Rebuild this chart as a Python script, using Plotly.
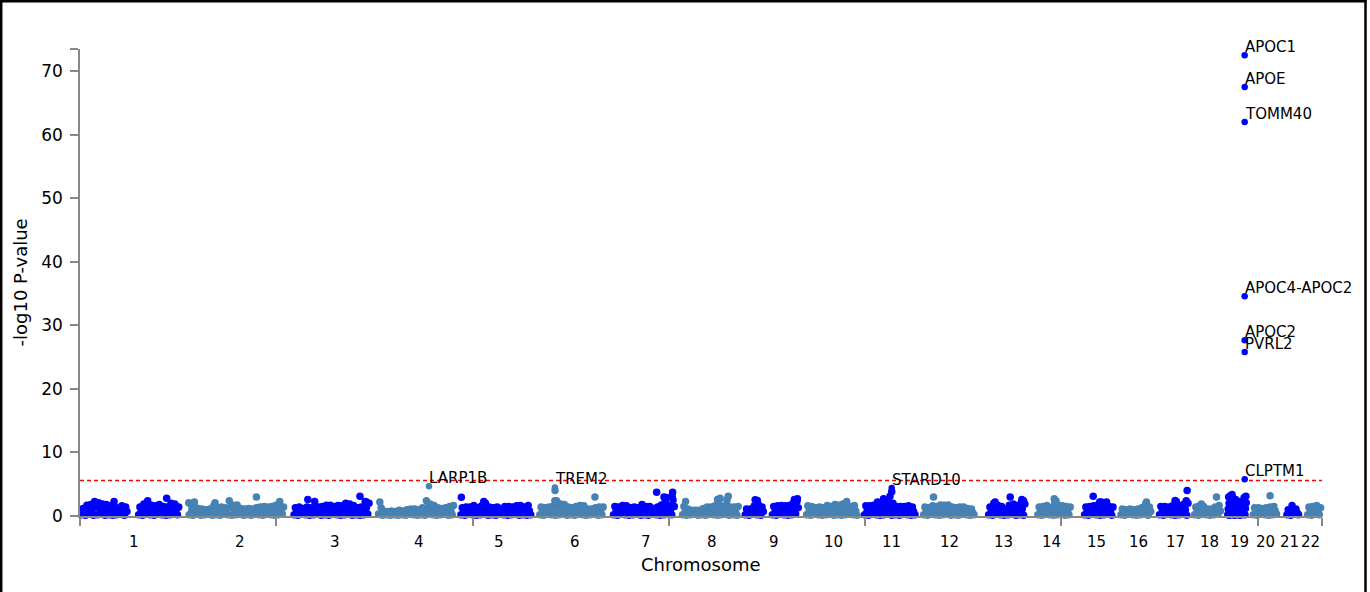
import plotly.graph_objects as go

# ---------------- data ----------------
chrom_labels = ["1", "2", "3", "4", "5", "6", "7", "8", "9", "10", "11",
                "12", "13", "14", "15", "16", "17", "18", "19", "20", "21", "22"]
chrom_len_mb = [249.25, 243.20, 198.02, 191.15, 180.92, 171.12, 159.14, 146.36,
                141.21, 135.53, 135.01, 133.85, 115.17, 107.35, 102.53, 90.35,
                81.20, 78.08, 59.13, 63.03, 48.13, 51.30]
# first bin (Mb) and bin width (Mb) of the gene -log10(P) values of each chromosome
bin_start_mb = [4, 4, 4, 2, 2, 4, 4, 5, 4, 5, 4, 6, 23, 22, 23, 5, 4, 4, 3, 3, 18, 18]
bin_step_mb = [3, 3, 3, 3, 3, 3, 3, 3, 3, 3, 3, 3, 3, 3, 3, 3, 3, 3, 1, 3, 3, 3]

chr1_p = [0.2, 1.2, 0.6, 0.1, 1.7, 0.9, 0.3, 1.8, 1.0, 0.1, 2.3, 1.4, 0.2, 2.1, 1.2,
          0.3, 1.9, 1.1, 0.1, 1.8, 0.9, 0.2, 1.6, 0.8, 0.1, 2.3, 1.4, 0.2, 1.1, 0.6,
          0.3, 1.6, 0.8, 0.1, 1.4, 0.7,
          None, None, None, None, None, None, None, None,
          0.2, 1.4, 0.7, 0.1, 1.9, 1.1, 0.3, 2.4, 1.4, 0.2, 1.7, 0.9, 0.1, 1.6, 0.8,
          0.3, 1.8, 1.0, 0.2, 1.5, 0.8, 0.1, 1.4, 0.7, 0.2, 2.0, 1.2, 0.3, 1.9, 1.0,
          0.2, 1.4]
chr2_p = [0.2, 1.9, 1.0, 0.1, 2.2, 1.3, 0.3, 1.2, 0.6, 0.1, 1.1, 0.5, 0.2, 1.0, 0.6,
          0.3, 1.1, 0.5, 0.1, 1.6, 0.8, 0.2, 1.3, 0.7, 0.1, 1.4, 0.6, 0.3, 1.3, 0.7,
          0.2, 2.4, 1.4, 0.1, 1.7, 0.9, 0.2, 1.75, 1.0, 0.3, 1.2, 0.6, 0.1, 1.1, 0.5,
          0.2, 1.2, 0.7, 0.1, 1.1, 0.6, 0.3, 1.3, 0.7, 0.2, 1.4, 0.6, 0.1, 1.5, 0.8,
          0.3, 1.4, 0.7, 0.2, 1.5, 0.8, 0.1, 1.7, 0.9, 0.2, 2.3, 1.3, 0.3, 1.4]
chr3_p = [0.2, 1.3, 0.6, 0.1, 1.4, 0.7, 0.3, 1.2, 0.6, 0.2, 1.4, 0.7, 0.1, 1.3, 0.6,
          0.2, 2.3, 1.3, 0.3, 1.4, 0.7, 0.1, 1.5, 0.8, 0.2, 1.7, 0.9, 0.1, 1.7, 0.9,
          0.3, 1.5, 0.8, 0.2, 1.65, 0.9, 0.1, 1.6, 0.8, 0.2, 2.0, 1.1, 0.3, 1.9, 1.0,
          0.1, 1.65, 0.9, 0.2, 1.3, 0.6, 0.1, 1.4, 0.8, 0.2, 2.3, 1.3, 0.3, 2.0]
chr4_p = [0.3, 2.2, 1.3, 0.1, 0.8, 0.4, 0.2, 0.7, 0.4, 0.1, 0.8, 0.5, 0.2, 0.7, 0.3,
          0.1, 0.9, 0.5, 0.2, 0.8, 0.4, 0.1, 1.0, 0.5, 0.3, 1.1, 0.6, 0.2, 1.1, 0.5,
          0.1, 1.0, 0.6, 0.2, 1.3, 0.7, 0.1, 2.4, 1.4, 0.3, 1.9, 1.0, 0.2, 1.65, 0.9,
          0.1, 1.3, 0.7, 0.2, 1.2, 0.6, 0.3, 1.3, 0.7, 0.1, 1.5, 0.8, 0.2, 1.65]
chr5_p = [0.2, 1.3, 0.7, 0.1, 1.4, 0.6, 0.3, 1.4, 0.7, 0.2, 1.65, 0.9, 0.1, 1.3, 0.6,
          0.2, 1.6, 0.9, 0.3, 2.0, 1.1, 0.1, 1.4, 0.7, 0.2, 1.3, 0.6, 0.1, 1.4, 0.7,
          0.3, 1.2, 0.6, 0.2, 1.5, 0.8, 0.1, 1.5, 0.7, 0.2, 1.4, 0.6, 0.3, 1.6, 0.8,
          0.1, 1.65, 0.9, 0.2, 1.4, 0.7, 0.1, 1.65, 0.8, 0.2]
chr6_p = [0.2, 1.4, 0.7, 0.1, 1.3, 0.6, 0.3, 1.4, 0.7, 0.2, 1.5, 0.8, 0.1, 2.4, 1.4,
          0.2, 1.9, 1.0, 0.3, 1.8, 0.9, 0.1, 1.4, 0.7, 0.2, 1.3, 0.6, 0.1, 1.5, 0.8,
          0.3, 1.65, 0.9, 0.2, 1.6, 0.8, 0.1, 1.1, 0.5, 0.2, 1.1, 0.6, 0.3, 1.3, 0.7,
          0.1, 1.4, 0.7, 0.2, 1.4]
chr7_p = [0.2, 1.5, 0.8, 0.1, 1.4, 0.7, 0.3, 1.65, 0.9, 0.2, 1.6, 0.8, 0.1, 1.3, 0.6,
          0.2, 1.4, 0.7, 0.3, 1.3, 0.6, 0.1, 1.8, 1.0, 0.2, 1.5, 0.7, 0.1, 1.5, 0.8,
          0.3, 1.2, 0.6, 0.2, 1.4, 0.7, 0.1, 1.75, 0.9, 0.2, 2.4, 1.3, 0.3, 1.6, 0.9,
          0.2, 2.5, 1.5]
chr8_p = [0.2, 1.5, 0.7, 0.1, 1.1, 0.5, 0.2, 0.9, 0.4, 0.3, 0.9, 0.5, 0.1, 0.9, 0.4,
          0.2, 1.2, 0.6, 0.1, 1.4, 0.7, 0.3, 1.4, 0.6, 0.2, 1.6, 0.8, 0.1, 2.2, 1.2,
          0.2, 1.5, 0.8, 0.3, 1.8, 1.0, 0.1, 1.4, 0.7, 0.2, 1.4, 0.6, 0.1, 1.5]
chr9_p = [0.2, 1.1, 0.5, 0.1, 1.1, 0.6, 0.3, 1.6, 0.8, 0.2, 1.9, 1.0, 0.1, 1.4, 0.7,
          None, None, None, None, None, None,
          0.2, 1.5, 0.7, 0.1, 1.6, 0.8, 0.3, 1.65, 0.9, 0.2, 1.6, 0.8, 0.1, 1.65, 0.9,
          0.2, 2.0, 1.1, 0.3, 2.3, 1.3]
chr10_p = [0.2, 1.6, 0.8, 0.1, 1.5, 0.7, 0.3, 1.3, 0.6, 0.2, 1.4, 0.7, 0.1, 1.3, 0.6,
           0.2, 1.65, 0.9, 0.3, 1.5, 0.7, 0.1, 1.8, 1.0, 0.2, 1.7, 0.9, 0.1, 1.9, 1.0,
           0.2, 2.3, 1.3, 0.3, 1.5, 0.7, 0.2, 1.65, 0.8, 0.1]
chr11_p = [0.2, 1.6, 0.8, 0.1, 1.6, 0.7, 0.3, 1.7, 0.9, 0.2, 2.2, 1.2, 0.1, 2.0, 1.1,
           0.2, 2.3, 1.3, 0.3, 2.2, 1.2, 0.1, 2.0, 1.1, 0.2, 1.5, 0.7, 0.1, 1.5, 0.8,
           0.3, 1.5, 0.7, 0.2, 1.6, 0.8, 0.1, 1.4, 0.7, 0.2]
chr12_p = [0.2, 1.4, 0.7, 0.1, 1.3, 0.6, 0.3, 1.6, 0.8, 0.2, 1.5, 0.7, 0.1, 1.75, 0.9,
           0.2, 1.7, 0.9, 0.3, 1.75, 0.9, 0.1, 1.4, 0.7, 0.2, 1.3, 0.6, 0.1, 1.4, 0.7,
           0.3, 1.4, 0.6, 0.2, 1.2, 0.6, 0.1, 1.1, 0.5, 0.2]
chr13_p = [0.2, 1.4, 0.7, 0.1, 2.0, 1.1, 0.3, 1.7, 0.9, 0.2, 1.5, 0.7, 0.1, 1.1, 0.5,
           0.2, 1.7, 0.9, 0.3, 1.9, 1.0, 0.1, 1.6, 0.8, 0.2, 2.0, 1.1, 0.1, 1.9]
chr14_p = [0.2, 1.4, 0.7, 0.1, 1.5, 0.7, 0.3, 1.65, 0.9, 0.2, 1.3, 0.6, 0.1, 2.1, 1.2,
           0.2, 1.7, 0.9, 0.3, 1.6, 0.8, 0.1, 1.5, 0.7, 0.2, 1.4]
chr15_p = [0.2, 1.4, 0.7, 0.1, 1.5, 0.8, 0.3, 1.6, 0.8, 0.2, 1.7, 0.9, 0.1, 2.2, 1.2,
           0.2, 1.8, 1.0, 0.3, 1.5, 0.7, 0.1, 1.4]
chr16_p = [0.2, 1.1, 0.5, 0.1, 1.0, 0.6, 0.3, 1.1, 0.5, 0.2, 1.0, 0.5, 0.1, 1.1, 0.6,
           0.2, 1.3, 0.7, 0.3, 1.9, 1.0, 0.1, 1.4, 0.7]
chr17_p = [0.2, 1.5, 0.7, 0.1, 1.5, 0.8, 0.3, 1.4, 0.7, 0.2, 1.6, 0.8, 0.1, 2.3, 1.3,
           0.2, 1.65, 0.9, 0.3, 1.9, 1.0, 0.1, 2.0]
chr18_p = [0.2, 1.4, 0.7, 0.1, 1.6, 0.8, 0.3, 1.5, 0.7, 0.2, 1.1, 0.5, 0.1, 1.1, 0.6,
           0.2, 1.4, 0.7, 0.3, 1.65, 0.8]
chr19_p = [0.2, 1.1, 3.0, 2.0, 0.1, 1.2, 3.2, 2.1, 0.3, 1.1, 3.4, 2.2, 0.2, 1.0, 2.7,
           1.9, 0.1, 1.1, 2.6, 1.8, 0.3, 1.0, 2.2, 1.6, 0.2, 1.1, 2.3, 1.7, 0.1, 0.9,
           2.2, 1.6, 0.2, 1.0, 2.2, 1.5, 0.3, 1.1, 2.9, 2.0, 0.2, 1.2, 3.1, 2.1]
chr20_p = [0.2, 1.3, 0.7, 0.1, 1.3, 0.6, 0.3, 1.2, 0.6, 0.2, 1.3, 0.7, 0.1, 1.4, 0.7,
           0.2, 1.5, 0.8, 0.3]
chr21_p = [0.2, 1.0, 0.5, 0.1, 1.65, 0.9, 0.3, 1.1, 0.5, 0.2]
chr22_p = [0.2, 1.4, 0.7, 0.1, 1.5, 0.8, 0.3, 1.65, 0.8, 0.2, 1.3]

chrom_p = [chr1_p, chr2_p, chr3_p, chr4_p, chr5_p, chr6_p, chr7_p, chr8_p, chr9_p,
           chr10_p, chr11_p, chr12_p, chr13_p, chr14_p, chr15_p, chr16_p, chr17_p,
           chr18_p, chr19_p, chr20_p, chr21_p, chr22_p]

# isolated stronger (unlabelled) genes
extra_chrom = [1, 2, 2, 2, 3, 3, 3, 5, 5, 6, 6, 6, 7, 7, 7, 7, 7, 8, 8, 8, 8, 8,
               9, 9, 9, 9, 11, 11, 11, 12, 13, 13, 13, 13, 14, 14, 15, 15, 15, 16,
               17, 17, 17, 18, 18, 20]
extra_mb = [201, 3, 64, 160, 36, 157, 172, 3, 55, 39, 39.5, 132, 104, 121, 127, 140,
            141, 12, 86, 92, 108, 111, 27, 32, 118, 125, 48, 63, 67, 29, 38, 73, 100,
            104, 60, 64, 43, 58, 74, 64, 40, 66, 68, 20, 55, 42]
extra_p = [2.8, 2.1, 2.1, 3.0, 2.6, 3.1, 2.2, 2.95, 2.3, 2.4, 4.0, 3.0, 3.75, 3.0, 2.9,
           3.1, 3.75, 2.3, 2.6, 2.8, 2.5, 3.1, 2.55, 2.45, 2.6, 2.7, 2.7, 3.1, 3.8, 3.0,
           2.2, 3.0, 2.6, 2.4, 2.7, 2.4, 3.1, 2.2, 2.2, 2.2, 2.45, 2.4, 4.0, 1.9, 3.0,
           3.2]

# labelled genes
top_genes = ["APOC1", "APOE", "TOMM40", "APOC4-APOC2", "APOC2", "PVRL2", "CLPTM1",
             "LARP1B", "TREM2", "STARD10"]
top_chrom = [19, 19, 19, 19, 19, 19, 19, 4, 6, 11]
top_mb = [42.2, 42.2, 42.2, 42.2, 42.2, 42.2, 42.3, 119, 39, 67]
top_p = [72.5, 67.5, 62.0, 34.6, 27.65, 25.8, 5.8, 4.7, 4.5, 4.4]

threshold_p = 5.6
y_tick_vals = [0, 10, 20, 30, 40, 50, 60, 70]
y_tick_text = ["0", "10", "20", "30", "40", "50", "60", "70"]
y_max = 73.5
x_tick_mb = [455.3, 910.6, 1365.9, 1821.2, 2276.5, 2731.8]

# ---------------- build ----------------
offsets = []
acc = 0.0
for L in chrom_len_mb:
    offsets.append(acc)
    acc += L
genome_total = acc

colors = ["#0000ff", "#4682b4"]
FONT = "DejaVu Sans"

xs = {0: [], 1: []}
ys = {0: [], 1: []}
for i, vals in enumerate(chrom_p):
    c = i % 2
    for k, v in enumerate(vals):
        xs[c].append(offsets[i] + bin_start_mb[i] + k * bin_step_mb[i])
        ys[c].append(v)
for ch, mb, p in zip(extra_chrom, extra_mb, extra_p):
    c = (ch - 1) % 2
    xs[c].append(offsets[ch - 1] + mb)
    ys[c].append(p)

fig = go.Figure()
for c in (1, 0):
    fig.add_trace(go.Scatter(
        x=xs[c], y=ys[c], mode="markers",
        marker=dict(size=7.5, color=colors[c], line=dict(width=0)),
        cliponaxis=False, hoverinfo="skip", showlegend=False))

# labelled genes, drawn slightly smaller like the reference
tx = {0: [], 1: []}
ty = {0: [], 1: []}
for ch, mb, p in zip(top_chrom, top_mb, top_p):
    c = (ch - 1) % 2
    tx[c].append(offsets[ch - 1] + mb)
    ty[c].append(p)
for c in (1, 0):
    fig.add_trace(go.Scatter(
        x=tx[c], y=ty[c], mode="markers",
        marker=dict(size=6.5, color=colors[c], line=dict(width=0)),
        cliponaxis=False, hoverinfo="skip", showlegend=False))

annotations = []
for i, lab in enumerate(chrom_labels):
    annotations.append(dict(
        x=offsets[i] + chrom_len_mb[i] / 2, y=0, xref="x", yref="y",
        text=lab, showarrow=False, yanchor="middle", xanchor="center",
        yshift=-26, font=dict(family=FONT, size=15, color="#000")))
for g, ch, mb, p in zip(top_genes, top_chrom, top_mb, top_p):
    annotations.append(dict(
        x=offsets[ch - 1] + mb, y=p, xref="x", yref="y", text=g,
        showarrow=False, xanchor="left", yanchor="bottom", xshift=-2, yshift=-3,
        font=dict(family=FONT, size=15, color="#000")))
annotations.append(dict(
    x=0.5, y=0, xref="paper", yref="y", text="Chromosome", showarrow=False,
    xanchor="center", yanchor="middle", yshift=-48,
    font=dict(family=FONT, size=18, color="#000")))
annotations.append(dict(
    x=(20 - 80) / 1242, y=0.5, xref="paper", yref="paper", text="-log10 P-value",
    showarrow=False, xanchor="center", yanchor="middle", textangle=-90,
    font=dict(family=FONT, size=18, color="#000")))

shapes = [
    dict(type="line", xref="paper", yref="y", x0=0, x1=1, y0=threshold_p,
         y1=threshold_p, line=dict(color="#ff0000", width=1.5, dash="4px,3px"),
         layer="below"),
    # page frame
    dict(type="line", xref="paper", yref="paper", x0=(1.2 - 80) / 1242,
         x1=(1.2 - 80) / 1242, y0=1.11, y1=-0.17, line=dict(color="#000", width=2.5)),
    dict(type="line", xref="paper", yref="paper", x0=-0.07, x1=(1366.5 - 80) / 1242,
         y0=(516 - 1.2) / 467, y1=(516 - 1.2) / 467, line=dict(color="#000", width=2.5)),
    dict(type="line", xref="paper", yref="paper", x0=(1365.5 - 80) / 1242,
         x1=(1365.5 - 80) / 1242, y0=1.11, y1=-0.17, line=dict(color="#000", width=2.5)),
]

fig.update_layout(
    width=1370, height=592,
    margin=dict(l=80, r=48, t=49, b=76),
    paper_bgcolor="white", plot_bgcolor="white",
    font=dict(family=FONT, color="#000"),
    showlegend=False,
    annotations=annotations,
    shapes=shapes,
    xaxis=dict(range=[0, genome_total],
               tickvals=[0] + x_tick_mb + [genome_total],
               ticktext=[""] * (len(x_tick_mb) + 2),
               ticks="outside", ticklen=8, tickwidth=1.5, tickcolor="#888",
               showline=True, linecolor="#888", linewidth=1.5,
               showgrid=False, zeroline=False, fixedrange=True),
    yaxis=dict(range=[0, y_max],
               tickvals=y_tick_vals + [y_max],
               ticktext=y_tick_text + [""],
               ticks="outside", ticklen=8, tickwidth=1.5, tickcolor="#888",
               showline=True, linecolor="#888", linewidth=1.5,
               showgrid=False, zeroline=False, fixedrange=True,
               tickfont=dict(family=FONT, size=17, color="#000"),
               ticklabelstandoff=4),
)

fig.write_html("out.html", config={"displayModeBar": False})
